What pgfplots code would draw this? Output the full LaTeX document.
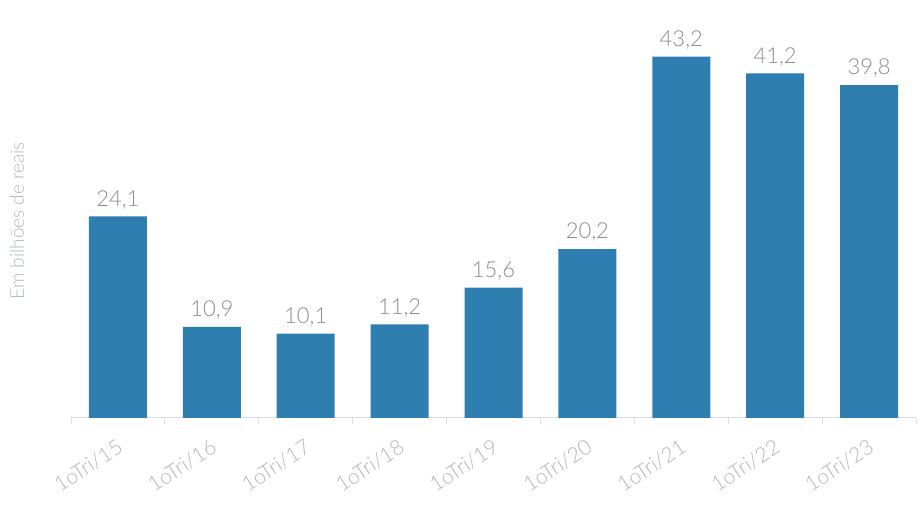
\documentclass[border=0pt]{standalone}
\usepackage{pgfplots}
\pgfplotsset{compat=1.18}
\usepackage{fontspec}
\setmainfont{Lato Light}
\definecolor{barblue}{RGB}{46,126,176}
\definecolor{axisgray}{RGB}{214,222,230}
\definecolor{valgray}{RGB}{140,140,140}
\definecolor{tickgray}{RGB}{185,180,185}
\definecolor{ylabgray}{RGB}{170,186,198}
\begin{document}
\begin{tikzpicture}
\useasboundingbox (0,0) rectangle (921pt,511pt);
\begin{axis}[
  at={(71pt,93pt)}, anchor=south west,
  scale only axis, width=845pt, height=378pt,
  xmin=-0.5, xmax=8.5, ymin=0, ymax=45.2,
  axis lines*=left,
  y axis line style={draw=none},
  x axis line style={draw=axisgray, line width=1pt},
  ytick=\empty,
  xtick={0,...,8},
  xticklabels={1oTri/15,1oTri/16,1oTri/17,1oTri/18,1oTri/19,1oTri/20,1oTri/21,1oTri/22,1oTri/23},
  major tick length=0pt,
  minor xtick={-0.5,0.5,...,8.5},
  minor tick length=6pt,
  tick align=outside,
  minor tick style={draw=axisgray, line width=1pt},
  xticklabel style={xshift=-2pt, yshift=-20pt, rotate=33, anchor=north east, inner sep=0pt, font=\fontsize{21}{23}\selectfont, text=tickgray},
  ylabel={Em bilhões de reais},
  ylabel style={at={(axis description cs:-0.064,0.522)}, anchor=center, font=\fontsize{19}{21}\selectfont, text=ylabgray},
  ybar, bar width=58pt,
  nodes near coords,
  /pgf/number format/.cd, fixed, precision=1, fixed zerofill, use comma, assume math mode=true,
  /pgfplots/.cd,
  nodes near coords style={font=\fontsize{22}{24}\selectfont, text=valgray, yshift=4pt},
  clip=false,
]
\addplot[fill=barblue, draw=none] coordinates {
  (0,24.1) (1,10.9) (2,10.1) (3,11.2) (4,15.6) (5,20.2) (6,43.2) (7,41.2) (8,39.8)
};
\end{axis}
\end{tikzpicture}
\end{document}
